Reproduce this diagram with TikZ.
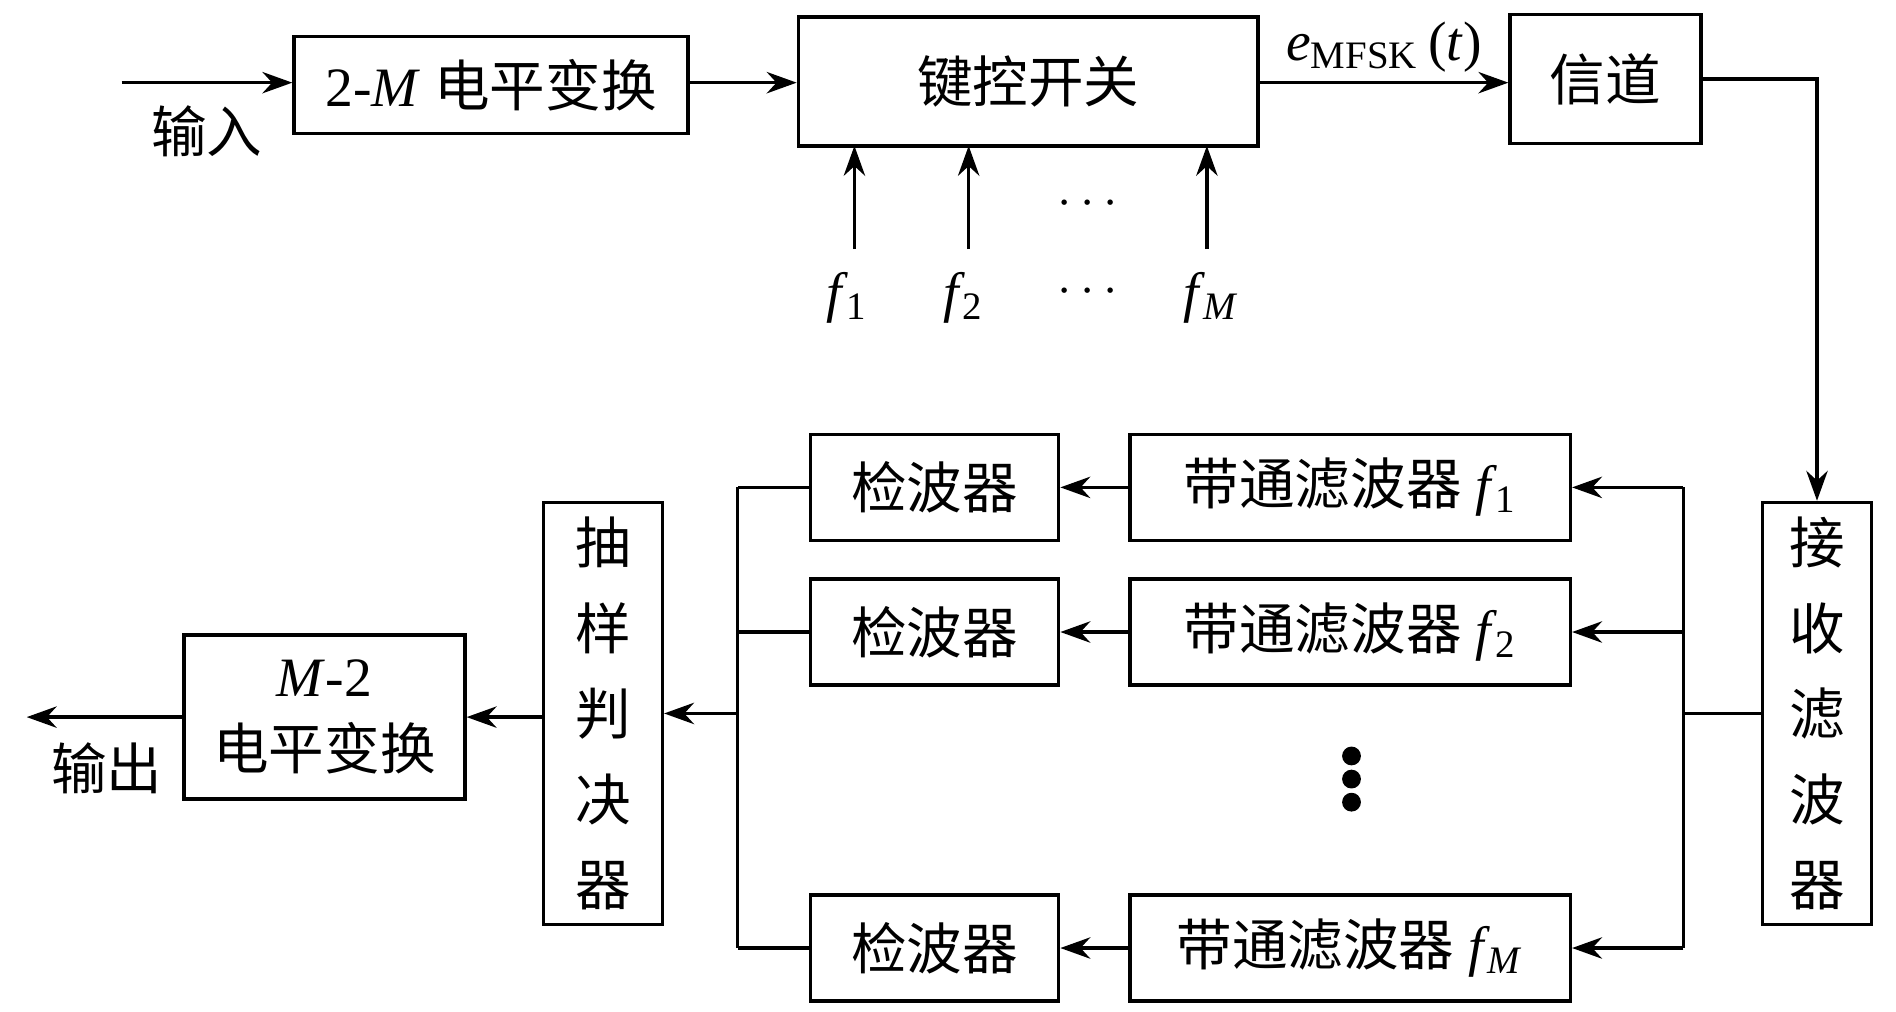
\documentclass[tikz,border=0pt]{standalone}
\usepackage{fontspec}
\setmainfont{Liberation Serif}
\newfontfamily\cjk{Noto Sans CJK SC}
\usetikzlibrary{arrows.meta}
\tikzset{
	blk/.style = {draw, thick, rectangle, inner sep=0pt, align=center, font=\fontsize{13}{17}\selectfont},
	lbl/.style = {inner sep=0pt, font=\fontsize{13}{17}\selectfont}
}
\newcommand{\fsub}[1]{\textit{f}\kern-0.5pt\textsubscript{#1}}

\begin{document}
\begin{tikzpicture}[x=0.01cm, y=-0.01cm, thick, >={Stealth[length=7pt,width=5pt]}]
	\useasboundingbox (0,0) rectangle (1560,832);

	% transmitter
	\node at (404,70) [blk, minimum width=3.24cm, minimum height=0.8cm] (lv) {2-\textit{M} {\cjk 电平变换}};
	\node at (846,67) [blk, minimum width=3.78cm, minimum height=1.06cm] (key) {\cjk 键控开关};
	\node at (1321,65) [blk, minimum width=1.57cm, minimum height=1.06cm] (ch) {\cjk 信道};
	\coordinate (in) at (100,68);
	\node at (170,108) [lbl] (inl) {\cjk 输入};
	\draw[->] (in) -- (lv.west |- in);
	\draw[->] (lv.east |- 0,68) -- (key.west |- 0,68);
	\draw[->] (key.east |- 0,68) -- node[lbl, above=2pt] {\textit{e}\textsubscript{MFSK}\,(\textit{t})} (ch.west |- 0,68);

	\node at (697,245) [lbl] (f1) {\fsub{1}};
	\node at (793,245) [lbl] (f2) {\fsub{2}};
	\node at (997,245) [lbl] (fM) {\fsub{\textit{M}}};
	\node at (895,240) [lbl] (fd) {$\cdots$};
	\node at (895,168) [lbl] (ad) {$\cdots$};
	\foreach \x in {703,797,993}
		\draw[->] (\x,205) -- (\x,120);

	% receiver
	\node at (1495,587) [blk, minimum width=0.9cm, minimum height=3.47cm] (rf) {\cjk 接\\[3pt]\cjk 收\\[3pt]\cjk 滤\\[3pt]\cjk 波\\[3pt]\cjk 器};
	\draw[->] (ch.east |- 0,65) -| (rf.north);

	\foreach \y/\s/\n in {401/\fsub{1}/1, 520/\fsub{2}/2, 780/\fsub{\textit{M}}/3} {
		\node at (1111,\y) [blk, minimum width=3.62cm, minimum height=0.87cm] (bp\n) {{\cjk 带通滤波器}\ \s};
		\node at (769,\y) [blk, minimum width=2.04cm, minimum height=0.87cm] (dt\n) {\cjk 检波器};
		\draw[->] (1385,\y) -- (bp\n.east);
		\draw[->] (bp\n.west) -- (dt\n.east);
		\draw (dt\n.west) -- (607,\y);
	}
	\foreach \y in {622,641,660}
		\fill (1112,\y) circle (2.2pt);
	\draw (rf.west) -- (1385,587);
	\draw (1385,401) -- (1385,780);
	\draw (607,401) -- (607,780);

	\node at (496,587) [blk, minimum width=0.98cm, minimum height=3.47cm] (sd) {\cjk 抽\\[3pt]\cjk 样\\[3pt]\cjk 判\\[3pt]\cjk 决\\[3pt]\cjk 器};
	\draw[->] (607,587) -- (sd.east |- 0,587);
	\node at (267,590) [blk, minimum width=2.31cm, minimum height=1.35cm] (ml) {\textit{M}-2\\{\cjk 电平变换}};
	\draw[->] (sd.west |- 0,590) -- (ml.east);
	\coordinate (out) at (22,590);
	\draw[->] (ml.west) -- (out);
	\node at (88,632) [lbl] (outl) {\cjk 输出};
\end{tikzpicture}
\end{document}
